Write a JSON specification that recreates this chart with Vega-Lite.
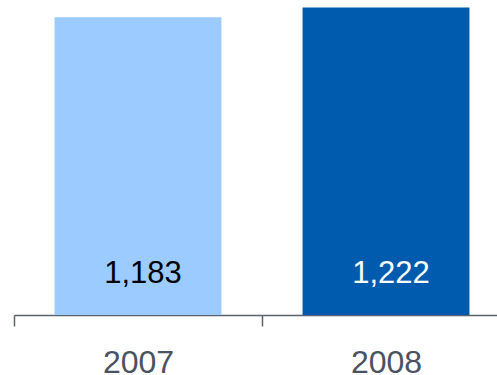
{
  "$schema": "https://vega.github.io/schema/vega-lite/v6.json",
  "autosize": "none",
  "width": 483,
  "height": 315,
  "padding": {"left": 14, "top": 0, "right": 0, "bottom": 60},
  "background": "white",
  "config": {"view": {"stroke": null}},
  "data": {"values": [
    {"year": "2007", "value": 1183},
    {"year": "2008", "value": 1222}
  ]},
  "encoding": {
    "x": {
      "field": "year", "type": "nominal",
      "scale": {"range": [0, 496], "paddingInner": 0, "paddingOuter": 0},
      "axis": {
        "title": null, "labelAngle": 0, "tickBand": "extent",
        "domainColor": "#5b6270", "domainWidth": 1.5,
        "tickColor": "#5b6270", "tickWidth": 1.5, "tickSize": 11,
        "labelFont": "Liberation Sans", "labelFontSize": 32, "labelColor": "#4b5262",
        "labelBaseline": "alphabetic", "labelPadding": 46
      }
    }
  },
  "layer": [
    {
      "mark": {"type": "bar", "width": {"band": 0.673}},
      "encoding": {
        "y": {"field": "value", "type": "quantitative", "scale": {"domain": [0, 1252], "nice": false, "zero": true}, "axis": null},
        "color": {"field": "year", "type": "nominal", "scale": {"range": ["#9ccbff", "#005bae"]}, "legend": null}
      }
    },
    {
      "mark": {"type": "text", "font": "Liberation Sans", "fontSize": 31, "baseline": "alphabetic", "dy": -32, "dx": 5},
      "encoding": {
        "y": {"datum": 0, "type": "quantitative"},
        "text": {"field": "value", "type": "quantitative", "format": ",d"},
        "color": {"field": "year", "type": "nominal", "scale": {"range": ["#000000", "#ffffff"]}, "legend": null}
      }
    }
  ],
  "resolve": {"scale": {"color": "independent"}}
}
